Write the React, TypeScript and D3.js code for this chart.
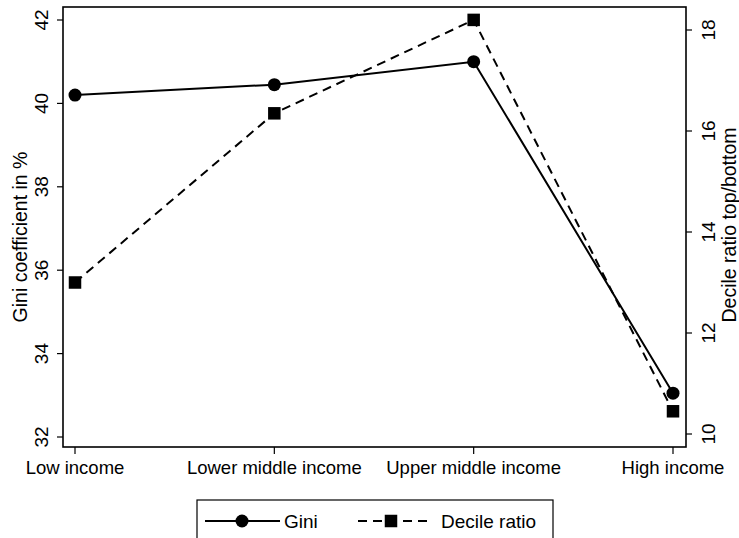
import React from "react";
import * as d3 from "d3";

const categories = ["Low income", "Lower middle income", "Upper middle income", "High income"];
const gini = [40.2, 40.45, 41.0, 33.05];
const decile = [13.0, 16.35, 18.2, 10.45];
const giniTicks = [32, 34, 36, 38, 40, 42];
const decileTicks = [10, 12, 14, 16, 18];

const W = 739;
const H = 538;
const frame = { left: 63, right: 686, top: 7, bottom: 447 };
const FONT = "'Liberation Sans', Arial, Helvetica, sans-serif";

export default function App() {
  const x = d3.scalePoint<string>().domain(categories).range([75, 673]);
  const yL = d3.scaleLinear().domain([32, 42]).range([437, 20]);
  const yR = d3.scaleLinear().domain([10, 18]).range([434, 30]);

  const lineG = d3
    .line<number>()
    .x((_, i) => x(categories[i])!)
    .y((d) => yL(d));
  const lineD = d3
    .line<number>()
    .x((_, i) => x(categories[i])!)
    .y((d) => yR(d));

  const sq = 12.5;
  const r = 6.5;
  const dash = "9 6";

  return (
    <svg
      width={W}
      height={H}
      style={{ position: "absolute", left: 0, top: 0, background: "#fff" }}
      fontFamily={FONT}
    >
      <rect x={0} y={0} width={W} height={H} fill="#fff" />
      {/* plot frame */}
      <rect
        x={frame.left}
        y={frame.top}
        width={frame.right - frame.left}
        height={frame.bottom - frame.top}
        fill="none"
        stroke="#000"
        strokeWidth={1.6}
      />

      {/* left axis */}
      {giniTicks.map((t) => (
        <g key={"l" + t}>
          <line x1={frame.left - 6} x2={frame.left} y1={yL(t)} y2={yL(t)} stroke="#000" strokeWidth={1.2} />
          <text
            transform={`translate(48,${yL(t)}) rotate(-90)`}
            textAnchor="middle"
            fontSize={19}
            fill="#000"
          >
            {t}
          </text>
        </g>
      ))}
      <text
        transform={`translate(27,237) rotate(-90)`}
        textAnchor="middle"
        fontSize={19.5}
        fill="#000"
      >
        Gini coefficient in %
      </text>

      {/* right axis */}
      {decileTicks.map((t) => (
        <g key={"r" + t}>
          <line x1={frame.right} x2={frame.right + 6} y1={yR(t)} y2={yR(t)} stroke="#000" strokeWidth={1.2} />
          <text
            transform={`translate(715,${yR(t)}) rotate(-90)`}
            textAnchor="middle"
            fontSize={19}
            fill="#000"
          >
            {t}
          </text>
        </g>
      ))}
      <text
        transform={`translate(736,225) rotate(-90)`}
        textAnchor="middle"
        fontSize={19.5}
        fill="#000"
      >
        Decile ratio top/bottom
      </text>

      {/* x axis */}
      {categories.map((c) => (
        <g key={c}>
          <line x1={x(c)} x2={x(c)} y1={frame.bottom} y2={frame.bottom + 7} stroke="#000" strokeWidth={1.2} />
          <text x={x(c)} y={frame.bottom + 27} textAnchor="middle" fontSize={18.5} fill="#000">
            {c}
          </text>
        </g>
      ))}

      {/* series */}
      <path d={lineG(gini)!} fill="none" stroke="#000" strokeWidth={2} />
      <path d={lineD(decile)!} fill="none" stroke="#000" strokeWidth={2} strokeDasharray={dash} />
      {gini.map((v, i) => (
        <circle key={"g" + i} cx={x(categories[i])} cy={yL(v)} r={r} fill="#000" />
      ))}
      {decile.map((v, i) => (
        <rect
          key={"d" + i}
          x={x(categories[i])! - sq / 2}
          y={yR(v) - sq / 2}
          width={sq}
          height={sq}
          fill="#000"
        />
      ))}

      {/* legend */}
      <rect x={197} y={500} width={356} height={40} fill="#fff" stroke="#000" strokeWidth={1.2} />
      <line x1={205} x2={280} y1={521} y2={521} stroke="#000" strokeWidth={2} />
      <circle cx={242} cy={521} r={r} fill="#000" />
      <text x={284} y={528} fontSize={19} fill="#000">Gini</text>
      <line x1={358} x2={431} y1={521} y2={521} stroke="#000" strokeWidth={2} strokeDasharray={dash} />
      <rect x={391 - sq / 2} y={521 - sq / 2} width={sq} height={sq} fill="#000" />
      <text x={441} y={528} fontSize={19} fill="#000">Decile ratio</text>
    </svg>
  );
}
